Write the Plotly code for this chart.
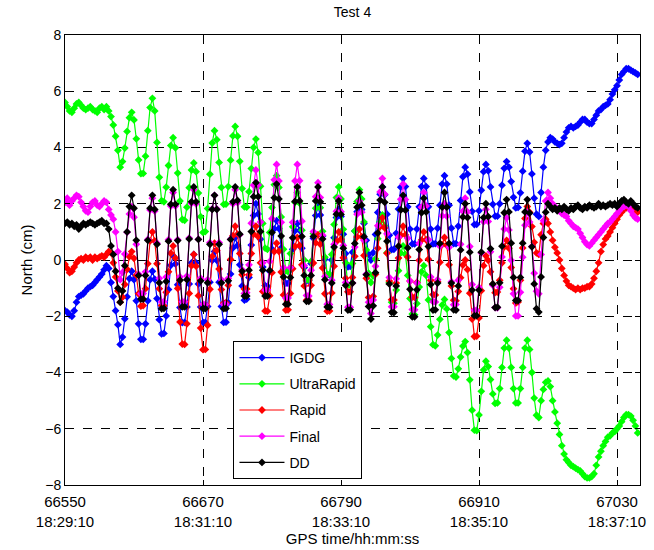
import plotly.graph_objects as go

# time axis: GPS seconds, one sample every 2 s
time = list(range(66550, 67050, 2))

tick_vals = [66550, 66670, 66790, 66910, 67030]
tick_text = ["66550<br>18:29:10", "66670<br>18:31:10", "66790<br>18:33:10",
             "66910<br>18:35:10", "67030<br>18:37:10"]

igdg = [
    -1.8, -1.85, -1.95, -2.0, -1.8, -1.5, -1.3, -1.25, -1.2, -1.1, -1.0, -0.95,
    -0.9, -0.8, -0.7, -0.6, -0.5, -0.35, -0.2, -0.3, -0.8, -1.3, -1.8, -2.3,
    -3.0, -2.74, -2.09, -1.31, -0.66,
    -0.4, -0.7, -1.45, -2.27, -2.82, -2.82, -2.27, -1.45, -0.7,
    -0.4, -0.68, -1.37, -2.12, -2.63, -2.61, -1.99, -1.05, -0.19,
    0.15, -0.14, -0.88, -1.69, -2.23, -2.22, -1.67, -0.85, -0.1,
    0.2, -0.1, -0.85, -1.67, -2.22, -2.22, -1.65, -0.79, -0.01,
    0.3, -0.01, -0.79, -1.65, -2.22, -2.21, -1.52, -0.5, 0.43,
    0.8, 0.52, -0.17, -0.92, -1.43, -1.39, -0.62, 0.53, 1.58,
    2.0, 1.64, 0.74, -0.25, -0.91, -0.93, -0.4, 0.39, 1.11,
    1.4, 1.12, 0.43, -0.32, -0.83, -0.83, -0.35, 0.38, 1.04,
    1.3, 1.05, 0.42, -0.27, -0.74, -0.72, -0.12, 0.77, 1.58,
    1.9, 1.6, 0.85, 0.03, -0.52, -0.53, 0.0, 0.79, 1.51,
    1.8, 1.55, 0.92, 0.23, -0.24, -0.23, 0.28, 1.03, 1.72,
    2.0, 1.8, 1.3, 0.7, 0.2, 0.0, 0.26, 0.91, 1.69, 2.34,
    2.6, 2.32, 1.63, 0.88, 0.37, 0.38, 0.95, 1.81, 2.59,
    2.9, 2.61, 1.89, 1.1, 0.57, 0.57, 1.1, 1.89, 2.61,
    2.9, 2.61, 1.89, 1.1, 0.57, 0.58, 1.13, 1.95, 2.7,
    3.0, 2.7, 1.95, 1.13, 0.58, 0.58, 1.2, 2.12, 2.96,
    3.3, 3.05, 2.42, 1.73, 1.26, 1.27, 1.75, 2.48, 3.14,
    3.4, 3.17, 2.6, 1.98, 1.56, 1.56, 2.0, 2.66, 3.26,
    3.5, 3.3, 2.79, 2.23, 1.85, 1.87, 2.39, 3.16, 3.87,
    4.15, 3.84, 3.06, 2.2, 1.63,
    1.55, 2.4, 3.3, 3.9, 4.2, 4.35, 4.3, 4.2, 4.15, 4.1, 4.15, 4.35, 4.55, 4.7,
    4.75, 4.7, 4.75, 4.8, 4.9, 5.0, 5.0, 4.9, 4.85, 4.85, 5.0, 5.15, 5.3, 5.35,
    5.45, 5.5, 5.55, 5.7, 5.9, 6.05, 6.2, 6.4, 6.6, 6.7, 6.8, 6.8, 6.75, 6.7,
    6.65, 6.6,
]

ultra_rapid = [
    5.6, 5.45, 5.3, 5.25, 5.4, 5.55, 5.6, 5.5, 5.4, 5.35, 5.4, 5.45,
    5.35, 5.3, 5.25, 5.4, 5.45, 5.35, 5.45, 5.3, 5.1, 4.8, 4.4, 3.9,
    3.3, 3.5, 3.98, 4.57, 5.06,
    5.25, 4.98, 4.31, 3.56, 3.07, 3.08, 3.69, 4.6, 5.42,
    5.75, 5.3, 4.18, 2.94, 2.11, 2.07, 2.59, 3.36, 4.07,
    4.35, 3.99, 3.09, 2.1, 1.44, 1.41, 1.88, 2.57, 3.2,
    3.45, 3.14, 2.38, 1.54, 0.98, 1.01, 1.83, 3.05, 4.16,
    4.6, 4.28, 3.47, 2.58, 1.98, 1.99, 2.61, 3.55, 4.41,
    4.75, 4.4, 3.51, 2.54, 1.89, 1.88, 2.43, 3.25, 4.0,
    4.3, 3.82, 2.62, 1.3, 0.42, 0.38, 0.98, 1.87, 2.68,
    3.0, 2.58, 1.53, 0.38, -0.39, -0.41, 0.23, 1.18, 2.05,
    2.4, 2.02, 1.06, 0.0, -0.7, -0.71, -0.05, 0.94, 1.84,
    2.2, 1.86, 1.02, 0.1, -0.52, -0.5, 0.2, 1.26, 2.22,
    2.6, 2.17, 1.09, -0.1, -0.89, -0.89, -0.12, 1.03, 2.08,
    2.5, 2.17, 1.35, 0.36, -0.47, -0.8, -0.56, 0.04, 0.76, 1.36,
    1.6, 1.22, 0.26, -0.8, -1.5, -1.54, -1.07, -0.38, 0.25,
    0.5, 0.2, -0.55, -1.37, -1.92, -1.95, -1.55, -0.96, -0.42,
    -0.2, -0.55, -1.42, -2.37, -3.01, -3.05, -2.67, -2.11, -1.6,
    -1.4, -1.74, -2.58, -3.5, -4.12, -4.16, -3.87, -3.45, -3.06,
    -2.9, -3.29, -4.26, -5.34, -6.05, -6.07, -5.51, -4.67, -3.91,
    -3.6, -3.79, -4.25, -4.76, -5.1, -5.08, -4.57, -3.82, -3.13,
    -2.85, -3.13, -3.82, -4.57, -5.08, -5.08, -4.57, -3.82, -3.13,
    -2.85, -3.18, -4.0, -4.91, -5.52,
    -5.6, -5.0, -4.6, -4.35, -4.3, -4.5, -5.0, -5.4, -5.8, -6.2, -6.6, -6.9,
    -7.1, -7.2, -7.3, -7.35, -7.4, -7.45, -7.5, -7.6, -7.7, -7.75, -7.75, -7.7,
    -7.6, -7.3, -7.0, -6.8, -6.6, -6.45, -6.3, -6.25, -6.15, -6.1, -6.0, -5.9,
    -5.75, -5.6, -5.5, -5.5, -5.55, -5.7, -5.9, -6.15,
]

rapid = [
    -0.15, -0.3, -0.45, -0.4, -0.25, -0.1, 0.0, 0.05, 0.0, 0.1, 0.05, 0.1,
    0.0, 0.1, 0.05, 0.1, 0.15, 0.1, 0.2, 0.3, 0.25, -0.1, -0.6, -1.1,
    -1.5, -1.32, -0.87, -0.33, 0.12,
    0.3, 0.06, -0.54, -1.2, -1.64, -1.62, -1.02, -0.13, 0.68,
    1.0, 0.68, -0.13, -1.02, -1.62, -1.63, -1.15, -0.42, 0.24,
    0.5, 0.07, -1.01, -2.2, -2.99, -3.0, -2.27, -1.19, -0.2,
    0.2, -0.22, -1.27, -2.42, -3.19, -3.18, -2.32, -1.04, 0.13,
    0.6, 0.34, -0.32, -1.05, -1.53, -1.52, -0.9, 0.02, 0.86,
    1.2, 0.92, 0.23, -0.52, -1.03, -1.03, -0.52, 0.23, 0.92,
    1.2, 0.83, -0.1, -1.12, -1.81, -1.82, -1.27, -0.45, 0.3,
    0.6, 0.31, -0.43, -1.24, -1.78, -1.77, -1.19, -0.31, 0.48,
    0.8, 0.52, -0.17, -0.92, -1.43, -1.43, -0.9, -0.11, 0.61,
    0.9, 0.56, -0.28, -1.2, -1.82, -1.81, -1.17, -0.22, 0.65,
    1.0, 0.74, 0.08, -0.65, -1.13, -1.13, -0.62, 0.13, 0.82,
    1.1, 0.83, 0.16, -0.65, -1.33, -1.6, -1.29, -0.51, 0.42, 1.19,
    1.5, 1.14, 0.24, -0.75, -1.41, -1.42, -0.82, 0.07, 0.88,
    1.2, 0.89, 0.11, -0.75, -1.32, -1.33, -0.8, -0.01, 0.71,
    1.0, 0.72, 0.03, -0.72, -1.23, -1.24, -0.77, -0.08, 0.55,
    0.8, 0.52, -0.17, -0.92, -1.43, -1.45, -1.12, -0.63, -0.18,
    0.0, -0.34, -1.18, -2.1, -2.72, -2.71, -2.06, -1.09, -0.2,
    0.15, -0.01, -0.42, -0.86, -1.16, -1.14, -0.72, -0.1, 0.47,
    0.7, 0.42, -0.27, -1.02, -1.53, -1.49, -0.72, 0.43, 1.48,
    1.9, 1.7, 1.19, 0.63, 0.25,
    0.2, 0.9, 1.3, 1.45, 1.3, 1.0, 0.7, 0.45, 0.25, 0.0, -0.3, -0.55, -0.75,
    -0.9, -0.95, -1.0, -1.05, -1.0, -1.05, -1.0, -1.0, -0.95, -0.95, -0.85,
    -0.65, -0.4, -0.1, 0.3, 0.55, 0.75, 0.85, 1.0, 1.15, 1.3, 1.45, 1.6, 1.7,
    1.8, 1.85, 1.9, 1.9, 1.85, 1.8, 1.7,
]

final = [
    2.05, 2.2, 1.95, 2.1, 2.2, 2.3, 2.25, 2.05, 1.9, 1.75, 1.7, 1.9,
    2.05, 2.1, 1.95, 1.9, 2.0, 2.1, 2.05, 1.8, 1.6, 1.45, 1.0, 0.3,
    -0.7, -0.44, 0.21, 0.99, 1.64,
    1.9, 1.52, 0.56, -0.5, -1.2, -1.19, -0.42, 0.73, 1.78,
    2.2, 1.74, 0.6, -0.65, -1.49, -1.48, -0.6, 0.72, 1.92,
    2.4, 1.92, 0.72, -0.6, -1.48, -1.48, -0.57, 0.78, 2.01,
    2.5, 2.0, 0.74, -0.65, -1.57, -1.58, -0.7, 0.62, 1.82,
    2.3, 1.82, 0.62, -0.7, -1.58, -1.57, -0.65, 0.74, 2.0,
    2.5, 2.04, 0.9, -0.35, -1.19, -1.16, -0.17, 1.31, 2.66,
    3.2, 2.67, 1.35, -0.1, -1.07, -1.06, -0.05, 1.47, 2.85,
    3.4, 2.81, 1.34, -0.27, -1.35, -1.35, -0.27, 1.34, 2.81,
    3.4, 2.82, 1.38, -0.2, -1.26, -1.28, -0.36, 1.01, 2.25,
    2.75, 2.22, 0.88, -0.59, -1.57, -1.58, -0.72, 0.56, 1.73,
    2.2, 1.72, 0.52, -0.8, -1.68, -1.68, -0.82, 0.46, 1.63,
    2.1, 1.7, 0.7, -0.5, -1.5, -1.9, -1.42, -0.22, 1.22, 2.42,
    2.9, 2.34, 0.93, -0.62, -1.66, -1.66, -0.67, 0.81, 2.16,
    2.7, 2.15, 0.77, -0.75, -1.76, -1.77, -0.82, 0.59, 1.88,
    2.4, 1.92, 0.72, -0.6, -1.48, -1.49, -0.7, 0.49, 1.57,
    2.0, 1.56, 0.45, -0.77, -1.59, -1.58, -0.72, 0.56, 1.73,
    2.2, 1.71, 0.48, -0.87, -1.78, -1.79, -0.97, 0.25, 1.36,
    1.8, 1.37, 0.29, -0.9, -1.69, -1.7, -0.97, 0.11, 1.1,
    1.5, 1.07, -0.01, -1.2, -1.99, -1.99, -1.15, 0.1, 1.24,
    1.7, 1.35, 0.48, -0.47, -1.11,
    -1.2, 0.2, 1.4, 2.1, 2.4, 2.2, 2.0, 1.9, 1.8, 1.75, 1.65, 1.6, 1.55, 1.4,
    1.3, 1.2, 1.15, 1.1, 0.95, 0.8, 0.65, 0.55, 0.5, 0.6, 0.7, 0.8, 0.9, 1.0,
    1.1, 1.2, 1.3, 1.35, 1.45, 1.55, 1.65, 1.75, 1.85, 1.9, 1.95, 1.9, 1.75,
    1.6, 1.5, 1.45,
]

dd = [
    1.3, 1.35, 1.25, 1.3, 1.2, 1.25, 1.1, 1.2, 1.3, 1.25, 1.3, 1.35,
    1.3, 1.25, 1.3, 1.35, 1.4, 1.3, 1.3, 1.1, 0.5, 0.2, -0.4, -1.0,
    -1.5, -1.1, -0.2, 1.0, 1.9,
    2.3, 1.84, 0.7, -0.55, -1.39, -1.39, -0.55, 0.7, 1.84,
    2.3, 1.8, 0.56, -0.81, -1.73, -1.72, -0.76, 0.67, 1.98,
    2.5, 1.98, 0.69, -0.72, -1.67, -1.67, -0.7, 0.75, 2.07,
    2.6, 2.07, 0.73, -0.74, -1.72, -1.73, -0.81, 0.56, 1.8,
    2.3, 1.8, 0.56, -0.81, -1.73, -1.72, -0.74, 0.73, 2.07,
    2.6, 2.12, 0.92, -0.4, -1.28, -1.28, -0.36, 1.01, 2.25,
    2.75, 2.25, 1.01, -0.36, -1.28, -1.28, -0.37, 0.98, 2.21,
    2.7, 2.17, 0.85, -0.6, -1.57, -1.57, -0.62, 0.79, 2.08,
    2.6, 2.1, 0.84, -0.55, -1.47, -1.47, -0.55, 0.84, 2.1,
    2.6, 2.07, 0.75, -0.7, -1.67, -1.68, -0.82, 0.46, 1.63,
    2.1, 1.62, 0.42, -0.9, -1.78, -1.77, -0.82, 0.59, 1.88,
    2.4, 1.95, 0.83, -0.52, -1.65, -2.1, -1.63, -0.45, 0.96, 2.13,
    2.6, 2.05, 0.67, -0.85, -1.86, -1.87, -0.92, 0.49, 1.78,
    2.3, 1.77, 0.43, -1.04, -2.02, -2.02, -1.06, 0.37, 1.68,
    2.2, 1.71, 0.48, -0.87, -1.78, -1.77, -0.82, 0.59, 1.88,
    2.4, 1.88, 0.59, -0.82, -1.77, -1.78, -0.92, 0.36, 1.53,
    2.0, 1.51, 0.28, -1.07, -1.98, -1.98, -1.07, 0.28, 1.51,
    2.0, 1.54, 0.4, -0.85, -1.69, -1.68, -0.81, 0.49, 1.68,
    2.15, 1.71, 0.6, -0.62, -1.44, -1.44, -0.62, 0.6, 1.71,
    2.15, 1.67, 0.47, -0.85, -1.73,
    -1.85, -0.6, 0.8, 1.7, 2.0, 1.9, 1.8, 1.85, 1.75, 1.85, 1.8, 1.9, 1.8,
    1.75, 1.85, 1.8, 1.9, 1.95, 1.85, 1.8, 1.9, 1.85, 1.95, 1.9, 1.85, 1.9,
    2.0, 1.9, 1.95, 1.9, 1.95, 2.0, 1.95, 2.0, 1.9, 2.0, 2.1, 2.15, 2.05,
    2.0, 2.1, 2.0, 1.9, 1.85,
]

series_names = ["IGDG", "UltraRapid", "Rapid", "Final", "DD"]
series_values = [igdg, ultra_rapid, rapid, final, dd]
series_colors = ["#0000FF", "#00FF00", "#FF0000", "#FF00FF", "#000000"]

for v in series_values:
    assert len(v) == len(time), len(v)

fig = go.Figure()
for name, vals, col in zip(series_names, series_values, series_colors):
    fig.add_trace(go.Scatter(
        x=time, y=vals, mode="lines+markers", name=name, legendgroup=name,
        line=dict(color=col, width=1.2),
        marker=dict(symbol="diamond", size=6, color=col),
    ))

axis_style = dict(
    showgrid=True, gridcolor="black", griddash="dash", gridwidth=1,
    showline=True, linecolor="black", linewidth=1, mirror="ticks",
    ticks="inside", ticklen=5, tickcolor="black", zeroline=False,
)

fig.update_layout(
    width=654, height=550,
    margin=dict(l=65, r=8, t=35, b=62),
    paper_bgcolor="white", plot_bgcolor="white",
    font=dict(family="Liberation Sans, Arial, sans-serif", size=15, color="black"),
    title=dict(text="Test 4", x=0.5, xref="paper", y=1 - 12 / 550,
               yref="container", yanchor="middle", font=dict(size=14)),
    xaxis=dict(range=[66550, 67050], tickvals=tick_vals, ticktext=tick_text,
               tickfont=dict(size=15), ticklabelstandoff=3,
               title=dict(text="GPS time/hh:mm:ss", standoff=2, font=dict(size=15)),
               **axis_style),
    yaxis=dict(range=[-8, 8], dtick=2, tickfont=dict(size=14),
               title=dict(text="North (cm)", standoff=8, font=dict(size=15)),
               **axis_style),
    legend=dict(x=0.293, y=0.32, xanchor="left", yanchor="top",
                bgcolor="white", bordercolor="black", borderwidth=1,
                font=dict(size=14), tracegroupgap=5, itemwidth=45),
    showlegend=True,
)

fig.write_html("out.html")
